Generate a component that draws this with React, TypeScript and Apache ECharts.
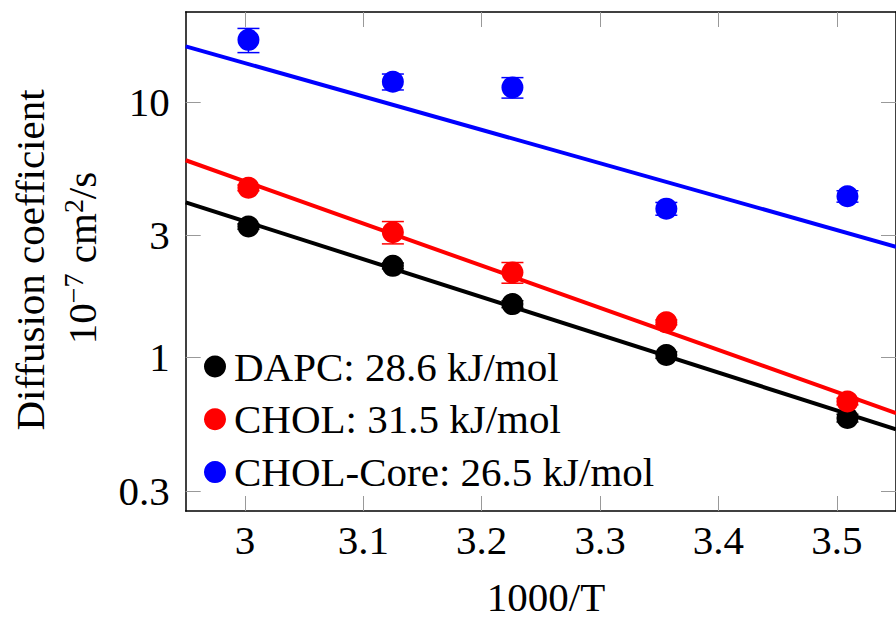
import React, { useEffect, useRef } from "react";
import * as echarts from "echarts";

// 1000/T values
const invT = [3.003, 3.125, 3.226, 3.356, 3.509];

// Diffusion coefficients (1e-7 cm^2/s)
const dapc = [3.25, 2.28, 1.615, 1.02, 0.578];
const dapcErr = [0.08, 0.06, 0.05, 0.03, 0.02];
const chol = [4.61, 3.09, 2.15, 1.37, 0.671];
const cholErr = [0.12, 0.31, 0.2, 0.03, 0.02];
const core = [17.5, 12.0, 11.4, 3.82, 4.27];
const coreErr = [1.9, 0.86, 1.05, 0.22, 0.22];

// Arrhenius fits evaluated at the x-range ends
const fitX = [2.95, 3.55];
const dapcFit = [4.04, 0.522];
const cholFit = [5.91, 0.604];
const coreFit = [16.5, 2.71];

const legendNames = ["DAPC: 28.6 kJ/mol", "CHOL: 31.5 kJ/mol", "CHOL-Core: 26.5 kJ/mol"];
const colors = ["#000000", "#ff0000", "#0000ff"];

const xTicks = [3, 3.1, 3.2, 3.3, 3.4, 3.5];
const yTicks = [0.3, 1, 3, 10];
const xRange = [2.95, 3.55];
const yRange = [0.25, 22.5];

const FONT = '"Liberation Serif", "DejaVu Serif", serif';
const FS = 41;

export default function App() {
  const ref = useRef<HTMLDivElement>(null);
  useEffect(() => {
    if (!ref.current) return;
    const chart = echarts.init(ref.current, undefined, { renderer: "svg" });
    const lg = Math.log10;
    const groups = [
      { vals: dapc, err: dapcErr, fit: dapcFit },
      { vals: chol, err: cholErr, fit: cholFit },
      { vals: core, err: coreErr, fit: coreFit },
    ];
    const series: any[] = [];
    groups.forEach((g, i) => {
      series.push({
        type: "custom",
        name: "err" + i,
        xAxisIndex: 0,
        yAxisIndex: 0,
        data: invT.map((x, k) => [x, lg(g.vals[k] - g.err[k]), lg(g.vals[k] + g.err[k])]),
        encode: { x: 0, y: [1, 2] },
        z: 2,
        renderItem: (params: any, api: any) => {
          const x = api.value(0);
          const top = api.coord([x, api.value(2)]);
          const bot = api.coord([x, api.value(1)]);
          const st = { stroke: colors[i], lineWidth: 1.5 };
          return {
            type: "group",
            children: [
              { type: "line", shape: { x1: top[0], y1: top[1], x2: bot[0], y2: bot[1] }, style: st },
              { type: "line", shape: { x1: top[0] - 11, y1: top[1], x2: top[0] + 11, y2: top[1] }, style: st },
              { type: "line", shape: { x1: bot[0] - 11, y1: bot[1], x2: bot[0] + 11, y2: bot[1] }, style: st },
            ],
          };
        },
      });
    });
    groups.forEach((g, i) => {
      series.push({
        type: "scatter",
        name: legendNames[i],
        data: invT.map((x, k) => [x, lg(g.vals[k])]),
        symbol: "circle",
        symbolSize: 22,
        itemStyle: { color: colors[i], opacity: 1 },
        z: 3 + i,
      });
      series.push({
        type: "line",
        name: "fit" + i,
        data: fitX.map((x, k) => [x, lg(g.fit[k])]),
        showSymbol: false,
        symbol: "none",
        lineStyle: { color: colors[i], width: 4 },
        z: 3 + i,
      });
    });

    const tickStyle = { show: true, inside: true, length: 15, lineStyle: { color: "#999", width: 1 } };
    const lineStyle = { show: true, onZero: false, lineStyle: { color: "#000", width: 1.5 } };
    const xLabel = (v: number) => String(Math.round(v * 10) / 10);
    const yLabel = (v: number) => {
      const r = Math.pow(10, v);
      return r >= 1 ? String(Math.round(r)) : String(Math.round(r * 10) / 10);
    };
    const yTickVals = yTicks.map((v) => lg(v));

    chart.setOption({
      animation: false,
      grid: { left: 185.7, top: 12, width: 722, height: 499, containLabel: false },
      xAxis: [
        {
          type: "value",
          min: xRange[0],
          max: xRange[1],
          position: "bottom",
          axisLine: lineStyle,
          axisTick: { ...tickStyle, customValues: xTicks },
          axisLabel: {
            customValues: xTicks,
            formatter: xLabel,
            margin: 8,
            fontFamily: FONT,
            fontSize: FS,
            lineHeight: FS,
            color: "#000",
          },
          splitLine: { show: false },
        },
        {
          type: "value",
          min: xRange[0],
          max: xRange[1],
          position: "top",
          axisLine: lineStyle,
          axisTick: { ...tickStyle, customValues: xTicks },
          axisLabel: { show: false, customValues: xTicks },
          splitLine: { show: false },
        },
      ],
      yAxis: [
        {
          type: "value",
          min: lg(yRange[0]),
          max: lg(yRange[1]),
          position: "left",
          axisLine: lineStyle,
          axisTick: { ...tickStyle, customValues: yTickVals },
          axisLabel: {
            customValues: yTickVals,
            formatter: yLabel,
            margin: 16,
            fontFamily: FONT,
            fontSize: FS,
            lineHeight: FS,
            color: "#000",
          },
          splitLine: { show: false },
        },
        {
          type: "value",
          min: lg(yRange[0]),
          max: lg(yRange[1]),
          position: "right",
          axisLine: lineStyle,
          axisTick: { ...tickStyle, customValues: yTickVals },
          axisLabel: { show: false, customValues: yTickVals },
          splitLine: { show: false },
        },
      ],
      legend: {
        data: legendNames.map((n) => ({ name: n, icon: "circle" })),
        orient: "vertical",
        left: 204,
        top: 346,
        itemWidth: 22,
        itemHeight: 22,
        itemGap: 11.8,
        padding: 0,
        selectedMode: false,
        textStyle: {
          fontFamily: FONT,
          fontSize: FS,
          lineHeight: FS,
          color: "#000",
          padding: [0, 0, 0, 3],
        },
      },
      graphic: [
        {
          type: "text",
          x: 30,
          y: 260,
          rotation: Math.PI / 2,
          style: {
            text: "Diffusion coefficient",
            fontFamily: FONT,
            fontSize: FS,
            fill: "#000",
            align: "center",
            verticalAlign: "middle",
          },
        },
        {
          type: "text",
          x: 82,
          y: 258,
          rotation: Math.PI / 2,
          style: {
            text: "{a|10}{b|−7}{a| cm}{b|2}{a|/s}",
            fill: "#000",
            align: "center",
            verticalAlign: "middle",
            rich: {
              a: { fontFamily: FONT, fontSize: FS, lineHeight: 46, fill: "#000" },
              b: { fontFamily: FONT, fontSize: 28, lineHeight: 28, verticalAlign: "top", fill: "#000" },
            },
          },
        },
        {
          type: "text",
          x: 546,
          y: 597,
          style: {
            text: "1000/T",
            fontFamily: FONT,
            fontSize: FS,
            lineHeight: 36,
            fill: "#000",
            align: "center",
            verticalAlign: "middle",
          },
        },
      ],
      series,
    });
    return () => chart.dispose();
  }, []);
  return (
    <div
      ref={ref}
      style={{ position: "absolute", left: 0, top: 0, width: 896, height: 621, background: "#fff" }}
    />
  );
}
